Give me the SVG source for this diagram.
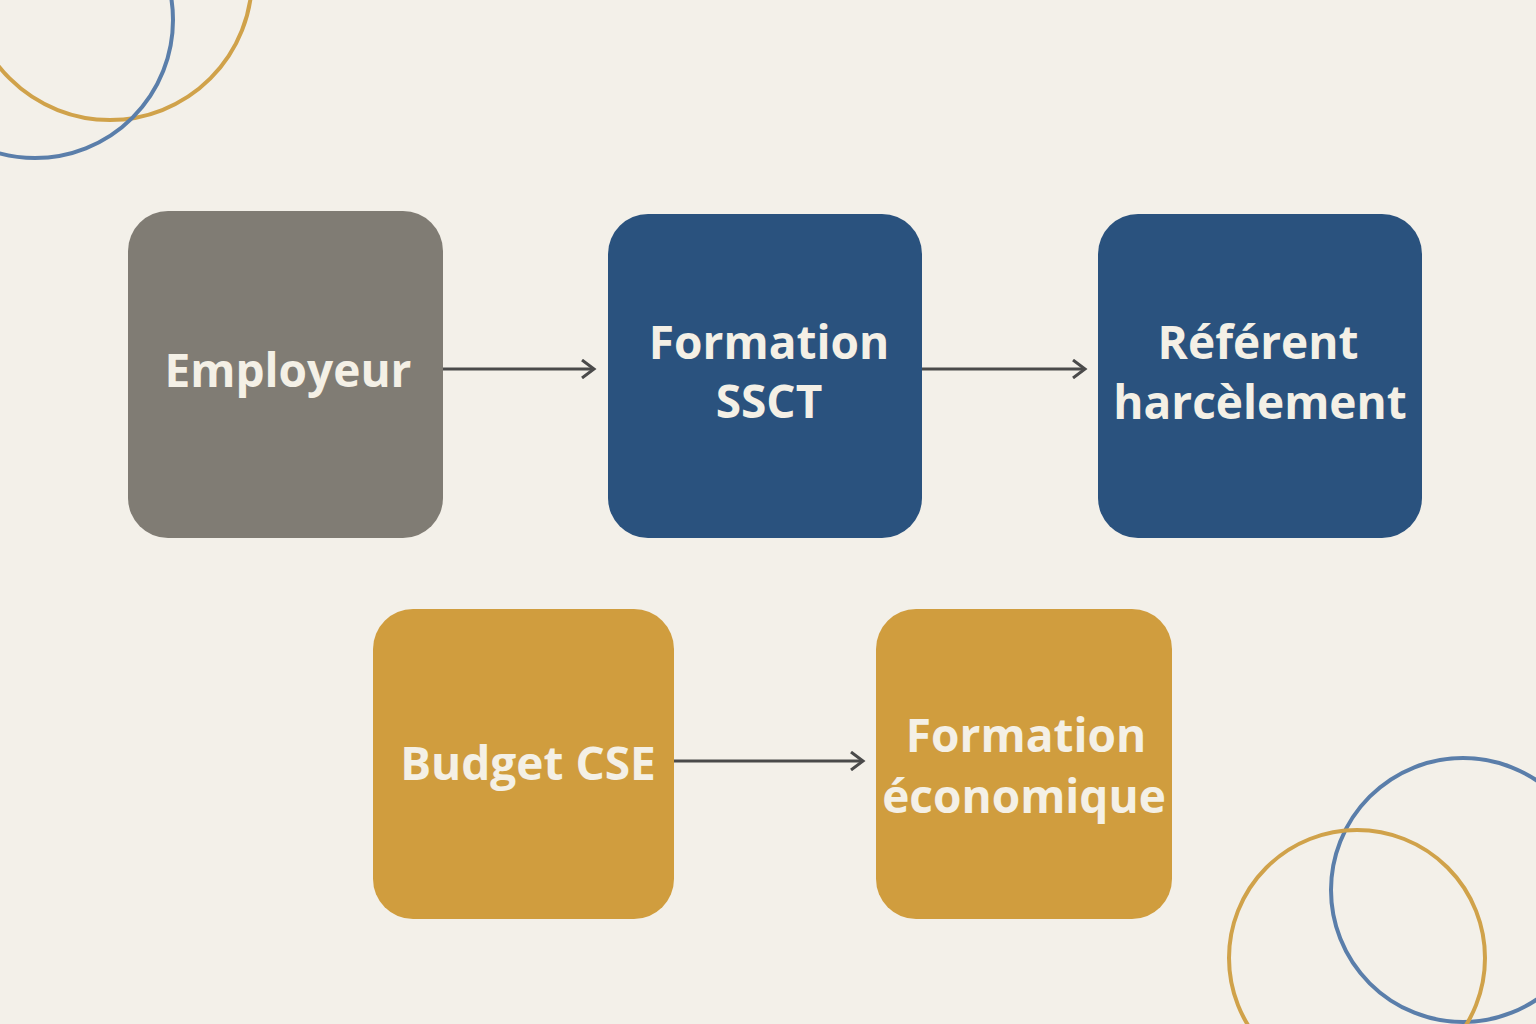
<svg xmlns="http://www.w3.org/2000/svg" width="1536" height="1024" viewBox="0 0 1536 1024">
<defs>
<style>
.t{font-family:"Open Sans","Liberation Sans",sans-serif;font-weight:bold;font-size:46px;fill:#f4f0e6;text-anchor:middle}
.c{stroke:#4a4a4a;stroke-width:3;fill:none}
</style>
<marker id="a" markerWidth="20" markerHeight="20" refX="16" refY="10" orient="auto" markerUnits="userSpaceOnUse"><path d="M4 1 L16 10 L4 19" fill="none" stroke="#4a4a4a" stroke-width="3"/></marker>
</defs>
<rect width="1536" height="1024" fill="#f3f0e9"/>
<g fill="none" stroke-width="4">
<circle cx="110" cy="-22" r="142" stroke="#d0a24a"/>
<circle cx="35" cy="20" r="138" stroke="#5a7eaa"/>
<circle cx="1463" cy="890" r="132" stroke="#5a7eaa"/>
<circle cx="1357" cy="958" r="128" stroke="#d0a24a"/>
</g>
<g id="connectors">
<line class="c" x1="443" y1="369" x2="594" y2="369" marker-end="url(#a)"/>
<line class="c" x1="922" y1="369" x2="1085" y2="369" marker-end="url(#a)"/>
<line class="c" x1="674" y1="761" x2="863" y2="761" marker-end="url(#a)"/>
</g>
<g id="employeur"><rect x="128" y="211" width="315" height="327" rx="40" fill="#807c74"/><text class="t" x="288" y="387">Employeur</text></g>
<g id="ssct"><rect x="608" y="214" width="314" height="324" rx="40" fill="#2a527e"/><text class="t" x="769" y="359">Formation</text><text class="t" x="769" y="418">SSCT</text></g>
<g id="referent"><rect x="1098" y="214" width="324" height="324" rx="40" fill="#2a527e"/><text class="t" x="1258" y="359">Référent</text><text class="t" x="1260" y="419">harcèlement</text></g>
<g id="budget"><rect x="373" y="609" width="301" height="310" rx="40" fill="#d09d3e"/><text class="t" x="528" y="780">Budget CSE</text></g>
<g id="eco"><rect x="876" y="609" width="296" height="310" rx="40" fill="#d09d3e"/><text class="t" x="1026" y="752">Formation</text><text class="t" x="1024" y="813">économique</text></g>
</svg>
